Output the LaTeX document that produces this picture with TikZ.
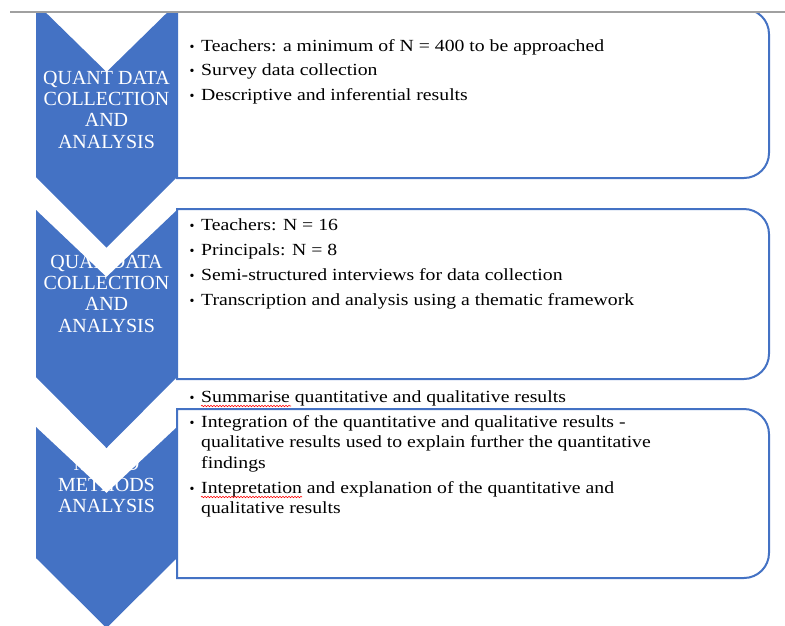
\documentclass[tikz,border=0pt]{standalone}
\usepackage{fontspec}
\setmainfont{Liberation Serif}
\newfontfamily\boxfont[FakeStretch=1.16]{Liberation Serif}
\usetikzlibrary{decorations.pathmorphing}
\definecolor{chevblue}{RGB}{68,114,196}
\definecolor{topgray}{RGB}{160,160,160}
\begin{document}
\begin{tikzpicture}[x=1pt,y=-1pt,
  chev/.style={fill=chevblue, draw=none},
  infobox/.style={draw=chevblue, line width=2pt, fill=white},
  chevtext/.style={text=white, font=\fontsize{20}{21}\selectfont, anchor=base, inner sep=0pt},
  itemtext/.style={font=\boxfont\fontsize{17}{20}\selectfont, anchor=base west, inner sep=0pt},
  bul/.style={font=\fontsize{14}{14}\selectfont, anchor=base, inner sep=0pt},
  spell/.style={draw=red, line width=0.6pt, decorate, decoration={snake, amplitude=0.7pt, segment length=3pt}}
]
\useasboundingbox (0,0) rectangle (785,625);
\begin{scope}
\clip (0,12) rectangle (785,626);
% boxes
\draw[infobox] (177,178) -- (177,9) -- (744,9) .. controls (757.8,9) and (769,20.2) .. (769,34)
  -- (769,153) .. controls (769,166.8) and (757.8,178) .. (744,178) -- cycle;
\draw[infobox] (177,379) -- (177,209) -- (744,209) .. controls (757.8,209) and (769,220.2) .. (769,234)
  -- (769,354) .. controls (769,367.8) and (757.8,379) .. (744,379) -- cycle;
\draw[infobox] (177,578) -- (177,409) -- (744,409) .. controls (757.8,409) and (769,420.2) .. (769,434)
  -- (769,553) .. controls (769,566.8) and (757.8,578) .. (744,578) -- cycle;
% chevrons
\fill[chev] (36,3) -- (106.5,72) -- (177,3) -- (177,177) -- (106.5,247.5) -- (36,177) -- cycle;
\fill[chev] (36,210) -- (106.5,277) -- (177,210) -- (177,377) -- (106.5,448) -- (36,377) -- cycle;
\fill[chev] (36,427) -- (106.5,493) -- (177,427) -- (177,558) -- (106.5,628) -- (36,558) -- cycle;
% chevron labels
\node[chevtext] (c1a) at (106.5,84) {QUANT DATA};
\node[chevtext] (c1b) at (106.5,105.3) {COLLECTION};
\node[chevtext] (c1c) at (106.5,126.6) {AND};
\node[chevtext] (c1d) at (106.5,148) {ANALYSIS};
\node[chevtext] (c2a) at (106.5,268) {QUAL DATA};
\node[chevtext] (c2b) at (106.5,289.3) {COLLECTION};
\node[chevtext] (c2c) at (106.5,310.6) {AND};
\node[chevtext] (c2d) at (106.5,332) {ANALYSIS};
\node[chevtext] (c3a) at (106.5,470) {MIXED};
\node[chevtext] (c3b) at (106.5,491) {METHODS};
\node[chevtext] (c3c) at (106.5,512) {ANALYSIS};
\end{scope}
% box 1 text
\node[bul] (b11) at (192,51) {•};
\node[itemtext] (t11) at (201,51) {Teachers: a minimum of N = 400 to be approached};
\node[bul] (b12) at (192,75.5) {•};
\node[itemtext] (t12) at (201,75.5) {Survey data collection};
\node[bul] (b13) at (192,100) {•};
\node[itemtext] (t13) at (201,100) {Descriptive and inferential results};
% box 2 text
\node[bul] (b21) at (192,230) {•};
\node[itemtext] (t21) at (201,230) {Teachers: N = 16};
\node[bul] (b22) at (192,255) {•};
\node[itemtext] (t22) at (201,255) {Principals: N = 8};
\node[bul] (b23) at (192,280) {•};
\node[itemtext] (t23) at (201,280) {Semi-structured interviews for data collection};
\node[bul] (b24) at (192,305) {•};
\node[itemtext] (t24) at (201,305) {Transcription and analysis using a thematic framework};
% box 3 text
\node[bul] (b31) at (192,402) {•};
\node[itemtext] (t31) at (201,402) {Summarise quantitative and qualitative results};
\node[bul] (b32) at (192,427) {•};
\node[itemtext] (t32a) at (201,427) {Integration of the quantitative and qualitative results -};
\node[itemtext] (t32b) at (201,447.5) {qualitative results used to explain further the quantitative};
\node[itemtext] (t32c) at (201,468) {findings};
\node[bul] (b33) at (192,493) {•};
\node[itemtext] (t33a) at (201,493) {Intepretation and explanation of the quantitative and};
\node[itemtext] (t33b) at (201,513.5) {qualitative results};
% spelling marks
\draw[spell] (201,406) -- (291,406);
\draw[spell] (201,497) -- (302,497);
% top rule
\draw[topgray, line width=2pt] (10,12) -- (785,12);
\end{tikzpicture}
\end{document}
